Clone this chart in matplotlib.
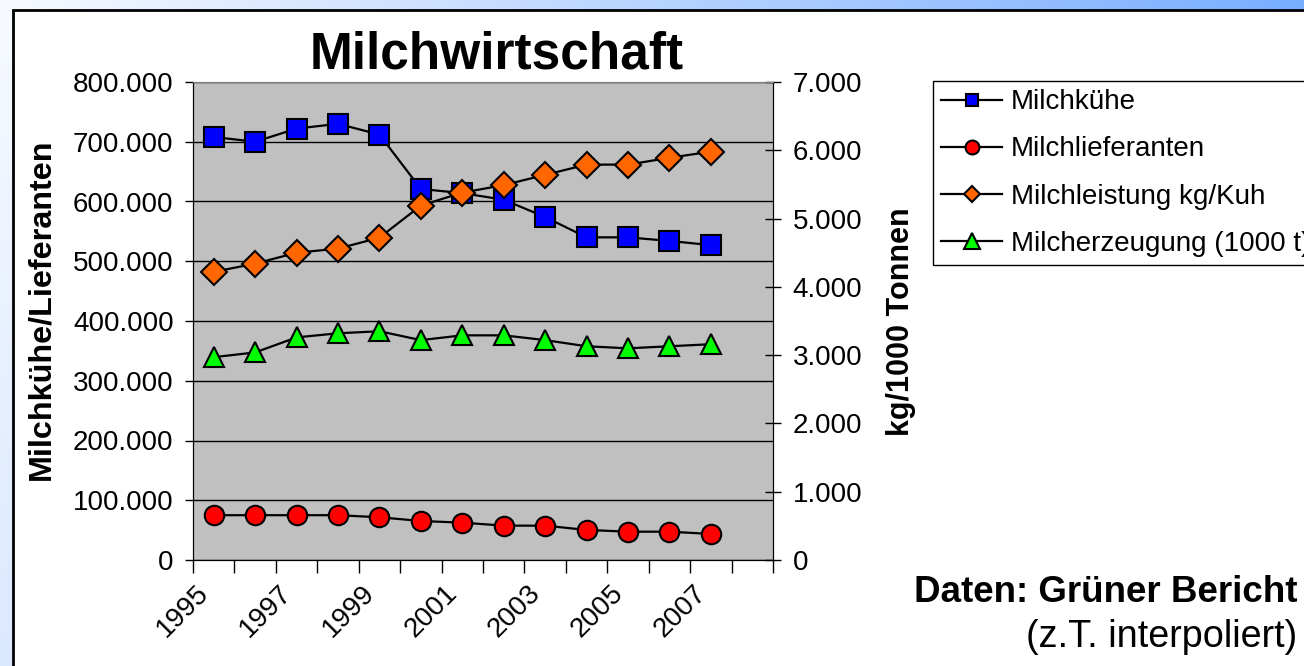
import numpy as np
import matplotlib
matplotlib.use("Agg")
import matplotlib.pyplot as plt
from matplotlib.lines import Line2D
from matplotlib.patches import Rectangle
from matplotlib.ticker import FuncFormatter, FixedLocator, NullFormatter
from matplotlib.transforms import ScaledTranslation

plt.rcParams["font.family"] = ["Liberation Sans", "DejaVu Sans"]

# data
years = [1995, 1996, 1997, 1998, 1999, 2000, 2001, 2002, 2003, 2004, 2005, 2006, 2007]
kuehe = [708000, 700000, 722000, 730000, 712000, 621000, 614000, 603000, 574000, 540000, 540000, 534000, 527000]
lieferanten = [75000, 75000, 75000, 75000, 71500, 65300, 62500, 57500, 57500, 50300, 47400, 47400, 43600]
leistung = [4220, 4340, 4500, 4560, 4720, 5190, 5380, 5490, 5640, 5790, 5790, 5890, 5980]
erzeugung = [2970, 3040, 3260, 3320, 3350, 3220, 3290, 3290, 3220, 3130, 3100, 3130, 3160]
year_labels = ["1995", "1997", "1999", "2001", "2003", "2005", "2007"]

W, H = 1304, 666
fig = plt.figure(figsize=(W / 100, H / 100), dpi=100)

# light blue slide background with white chart area on top
bg = fig.add_axes([0, 0, 1, 1], zorder=-10)
gx, gy = np.meshgrid(np.linspace(0, 1, 300), np.linspace(0, 1, 150))
t = np.clip(0.9 * gx + 0.2 * gy, 0, 1)[..., None]
c0 = np.array([0.97, 0.98, 1.0])
c1 = np.array([0.42, 0.65, 1.0])
bg.imshow(c0 * (1 - t) + c1 * t, extent=(0, W, H, 0), aspect="auto")
bg.add_patch(Rectangle((13, 10), W + 50, H + 50, facecolor="white", edgecolor="black", lw=2))
bg.set_xlim(0, W)
bg.set_ylim(H, 0)
bg.axis("off")

ax = fig.add_axes([193 / W, 1 - 560 / H, 580 / W, 478 / H])
ax.set_facecolor("#c0c0c0")
ax2 = ax.twinx()

mk = dict(color="black", lw=1.6, mec="black", mew=1.5)
ax.plot(years, kuehe, marker="s", ms=14, mfc="#0000ff", **mk)
ax.plot(years, lieferanten, marker="o", ms=14, mfc="#ff0000", **mk)
ax2.plot(years, leistung, marker="D", ms=13, mfc="#ff6600", **mk)
ax2.plot(years, erzeugung, marker="^", ms=15, mfc="#00ff00", **mk)

ax.set_xlim(1994.5, 2008.5)
ax.set_ylim(0, 800000)
ax2.set_ylim(0, 7000)

ax.set_yticks(np.arange(0, 800001, 100000))
ax2.set_yticks(np.arange(0, 7001, 1000))
dots = FuncFormatter(lambda v, p: f"{int(v):,}".replace(",", "."))
ax.yaxis.set_major_formatter(dots)
ax2.yaxis.set_major_formatter(dots)
ax.yaxis.grid(True, color="black", lw=1)
ax.set_axisbelow(True)

# category boundaries as ticks, year labels under every second category
ax.xaxis.set_major_locator(FixedLocator(np.arange(1994.5, 2009, 1)))
ax.xaxis.set_major_formatter(NullFormatter())
ax.tick_params(axis="x", direction="out", length=9, width=1)
off = ScaledTranslation(-0.18, -0.20, fig.dpi_scale_trans)
for lab in year_labels:
    ax.text(int(lab), 0, lab, transform=ax.get_xaxis_transform() + off,
            rotation=45, ha="right", va="top", rotation_mode="anchor", fontsize=20)

ax.tick_params(axis="y", direction="out", length=6, width=1, labelsize=20, pad=8)
ax2.tick_params(axis="y", direction="inout", length=12, width=1, labelsize=20, pad=8)

for a in (ax, ax2):
    for s in ("left", "right", "bottom"):
        a.spines[s].set_color("black")
    a.spines["top"].set_color("#808080")

fig.text(497 / W, 1 - 55 / H, "Milchwirtschaft", ha="center", va="center",
         fontsize=37, fontweight="bold")
fig.text(41 / W, 1 - 309 / H, "Milchkühe/Lieferanten", rotation=90, ha="center",
         va="center", fontsize=23.3, fontweight="bold")
fig.text(901 / W, 1 - 322 / H, "kg/1000 Tonnen", rotation=90, ha="center",
         va="center", fontsize=22, fontweight="bold")
fig.text(1298 / W, 1 - 592 / H, "Daten: Grüner Bericht", ha="right", va="center",
         fontsize=26.5, fontweight="bold")
fig.text(1297 / W, 1 - 637 / H, "(z.T. interpoliert)", ha="right", va="center",
         fontsize=27.2)

handles = [
    Line2D([], [], marker="s", ms=9, mfc="#0000ff", **mk),
    Line2D([], [], marker="o", ms=10, mfc="#ff0000", **mk),
    Line2D([], [], marker="D", ms=8.5, mfc="#ff6600", **mk),
    Line2D([], [], marker="^", ms=11, mfc="#00ff00", **mk),
]
names = ["Milchkühe", "Milchlieferanten", "Milchleistung kg/Kuh", "Milcherzeugung (1000 t)"]
leg = fig.legend(handles, names, loc="upper left", bbox_to_anchor=(933 / W, 1 - 81 / H),
                 fontsize=20, frameon=True, fancybox=False, edgecolor="black",
                 framealpha=1, borderpad=0.3, handlelength=2.2, handletextpad=0.3,
                 labelspacing=0.76, borderaxespad=0)
leg.get_frame().set_linewidth(1)

fig.savefig("out.png", dpi=100)
